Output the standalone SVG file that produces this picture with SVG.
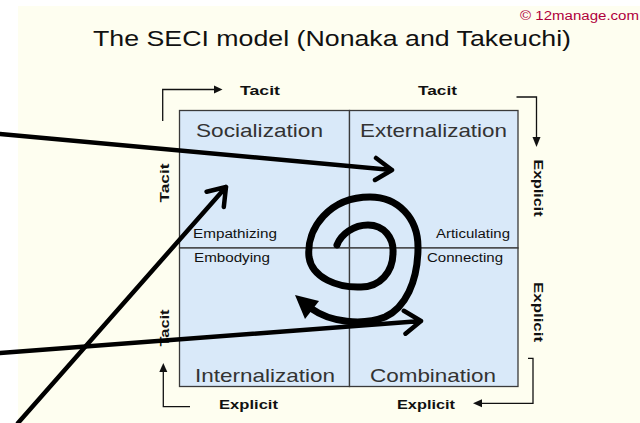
<svg xmlns="http://www.w3.org/2000/svg" width="640" height="423" viewBox="0 0 640 423">
<defs>
<style>
text{font-family:"Liberation Sans",Arial,sans-serif}
.q{fill:#d9e9f9;stroke:#3a3a3a;stroke-width:1.3}
.qt{font-size:19px;fill:#333}
.sm{font-size:12px;fill:#111}
.ax{font-size:13px;font-weight:bold;fill:#111}
.thin{fill:none;stroke:#111;stroke-width:1.3}
.tip{fill:#111}
.big{fill:none;stroke:#000;stroke-width:4.5;stroke-linecap:round;stroke-linejoin:round}
.sp{fill:none;stroke:#000;stroke-width:7;stroke-linecap:round;stroke-linejoin:round}
</style>
</defs>
<rect x="0" y="0" width="640" height="423" fill="#ffffff"/>
<rect x="18" y="6" width="622" height="417" fill="#fefef0"/>
<g id="header">
<text x="520" y="20" font-size="12" fill="#b0003c" textLength="119" lengthAdjust="spacingAndGlyphs">© 12manage.com</text>
<text x="93" y="46" font-size="22" fill="#111" textLength="478" lengthAdjust="spacingAndGlyphs">The SECI model (Nonaka and Takeuchi)</text>
</g>
<g id="socialization">
<rect class="q" x="179.5" y="110.5" width="170" height="137.5"/>
<text class="qt" x="196" y="137" textLength="127" lengthAdjust="spacingAndGlyphs">Socialization</text>
<text class="sm" x="193" y="238" textLength="84" lengthAdjust="spacingAndGlyphs">Empathizing</text>
</g>
<g id="externalization">
<rect class="q" x="349.5" y="110.5" width="168.5" height="137.5"/>
<text class="qt" x="360" y="137" textLength="147" lengthAdjust="spacingAndGlyphs">Externalization</text>
<text class="sm" x="436" y="238" textLength="74" lengthAdjust="spacingAndGlyphs">Articulating</text>
</g>
<g id="internalization">
<rect class="q" x="179.5" y="248" width="170" height="138.5"/>
<text class="sm" x="194" y="262" textLength="76" lengthAdjust="spacingAndGlyphs">Embodying</text>
<text class="qt" x="195" y="382" textLength="140" lengthAdjust="spacingAndGlyphs">Internalization</text>
</g>
<g id="combination">
<rect class="q" x="349.5" y="248" width="168.5" height="138.5"/>
<text class="sm" x="427" y="262" textLength="76" lengthAdjust="spacingAndGlyphs">Connecting</text>
<text class="qt" x="370" y="382" textLength="126" lengthAdjust="spacingAndGlyphs">Combination</text>
</g>
<g id="axis-labels">
<text class="ax" x="240" y="95" textLength="40" lengthAdjust="spacingAndGlyphs">Tacit</text>
<text class="ax" x="418" y="95" textLength="39" lengthAdjust="spacingAndGlyphs">Tacit</text>
<text class="ax" x="219" y="409" textLength="59" lengthAdjust="spacingAndGlyphs">Explicit</text>
<text class="ax" x="397" y="409" textLength="58" lengthAdjust="spacingAndGlyphs">Explicit</text>
<text class="ax" transform="translate(169,183) rotate(-90)" text-anchor="middle" textLength="39" lengthAdjust="spacingAndGlyphs">Tacit</text>
<text class="ax" transform="translate(169,328) rotate(-90)" text-anchor="middle" textLength="37" lengthAdjust="spacingAndGlyphs">Tacit</text>
<text class="ax" transform="translate(534,188) rotate(90)" text-anchor="middle" textLength="57" lengthAdjust="spacingAndGlyphs">Explicit</text>
<text class="ax" transform="translate(534,312) rotate(90)" text-anchor="middle" textLength="60" lengthAdjust="spacingAndGlyphs">Explicit</text>
</g>
<g id="connectors">
<path class="thin" d="M162.7,121 V89.5 H215"/>
<polygon class="tip" points="214,85.5 222.5,89.5 214,93.5"/>
<path class="thin" d="M516.5,97 H536.5 V138"/>
<polygon class="tip" points="532.5,137 540.5,137 536.5,147"/>
<path class="thin" d="M190,406.7 H163.3 V371"/>
<polygon class="tip" points="159.3,372 167.3,372 163.3,363"/>
<path class="thin" d="M528,358.3 H533 V403.3 H481"/>
<polygon class="tip" points="482,399.3 482,407.3 473,403.3"/>
<path class="sp" d="M337,245 C341,234 354,225 368,225 C384,225 394,238 393,253 C393,272 380,287 361,287 C338,288 312,278 309,257 C306,228 330,197 370,197 C398,197 418,218 418,247 C418,282 405,308 385,317 C362,326 330,322 312,309"/>
<polygon fill="#000" points="295,295 319,301 305,319"/>
<path class="big" d="M0,134 L392,170 M376,158 L392,170 L375,180"/>
<path class="big" d="M18,423 L226,187 M206.6,191.7 L226,187 L223.8,206.9"/>
<path class="big" d="M0,353 L421,321 M403.8,310.8 L421,321 L405.5,333.7"/>
</g>
</svg>
